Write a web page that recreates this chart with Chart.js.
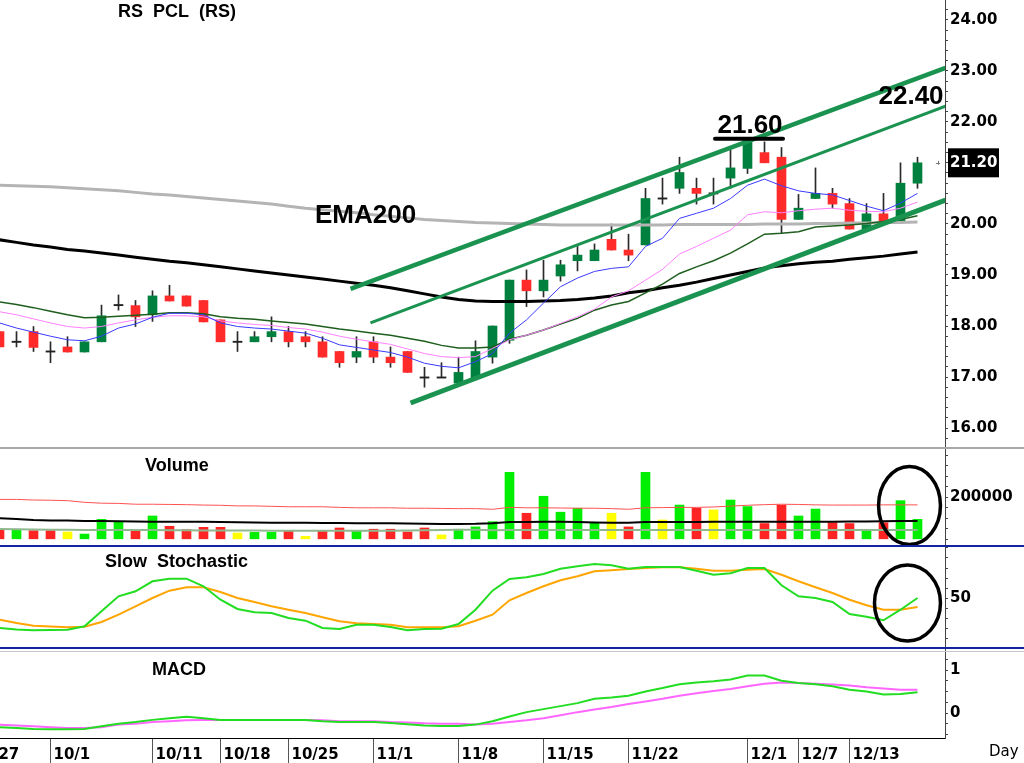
<!DOCTYPE html>
<html><head><meta charset="utf-8">
<script src="https://cdn.jsdelivr.net/npm/chart.js@4.4.1/dist/chart.umd.min.js"></script>
<style>
html,body{margin:0;padding:0;background:#fff;width:1024px;height:763px;overflow:hidden;}
canvas{position:absolute;left:0;}
</style></head><body>
<canvas id="cPrice" width="1024" height="449" style="top:0px"></canvas>
<canvas id="cVol" width="1024" height="98" style="top:449px"></canvas>
<canvas id="cSto" width="1024" height="102" style="top:547px"></canvas>
<canvas id="cMacd" width="1024" height="114" style="top:649px"></canvas>
<script>
// ---------- DATA (trading days 9/28 .. 12/17, index 0..54) ----------
const tickIdx    = [-1, 3, 9, 13, 17, 22, 27, 32, 37, 44, 47, 50];
const tickLabels = ['9/27','10/1','10/11','10/18','10/25','11/1','11/8','11/15','11/22','12/1','12/7','12/13'];

const openP = [17.89,17.69,17.89,17.50,17.59,17.49,17.69,18.41,18.40,18.22,
               18.59,18.59,18.50,18.12,17.69,17.69,17.79,17.89,17.79,17.69,
               17.50,17.39,17.69,17.39,17.50,16.99,16.99,16.88,16.97,17.39,
               17.72,18.90,18.69,18.98,19.28,19.28,19.70,19.49,19.59,20.50,
               20.70,20.70,20.60,20.90,21.09,21.40,21.31,20.09,20.50,20.60,
               20.40,19.90,20.20,20.05,20.80];
const highP = [17.89,17.89,17.99,17.69,17.79,17.69,18.41,18.61,18.50,18.69,
               18.80,18.59,18.50,18.12,17.89,17.89,18.18,17.99,17.89,17.79,
               17.50,17.79,17.79,17.59,17.50,17.19,17.28,17.39,17.71,18.00,
               18.90,19.10,19.29,19.29,19.56,19.61,20.00,19.80,20.70,20.90,
               21.31,20.90,20.90,21.45,21.66,21.61,21.50,20.58,21.10,20.70,
               20.50,20.40,20.60,21.20,21.31];
const lowP  = [17.59,17.59,17.50,17.28,17.49,17.49,17.69,18.31,17.99,18.09,
               18.49,18.39,18.08,17.69,17.50,17.69,17.69,17.59,17.59,17.39,
               17.19,17.28,17.28,17.19,17.09,16.80,16.99,16.88,16.95,17.27,
               17.66,18.38,18.57,18.88,19.08,19.28,19.49,19.28,19.59,20.39,
               20.60,20.39,20.39,20.70,20.99,21.20,19.82,20.09,20.50,20.31,
               19.90,19.90,20.05,20.05,20.70];
const closeP = [17.59,17.69,17.58,17.50,17.49,17.69,18.20,18.41,18.18,18.59,
                18.49,18.39,18.08,17.69,17.69,17.79,17.89,17.69,17.69,17.39,
                17.28,17.50,17.39,17.28,17.09,16.99,16.99,17.09,17.50,18.00,
                18.90,18.69,18.90,19.20,19.39,19.49,19.49,19.39,20.50,20.50,
                21.01,20.60,20.60,21.10,21.65,21.20,20.09,20.31,20.60,20.39,
                19.90,20.20,20.05,20.80,21.20];

const emaFast = [18.06,17.96,17.88,17.80,17.73,17.71,17.80,17.96,18.04,18.17,
                 18.25,18.25,18.22,18.06,17.99,17.96,17.94,17.90,17.86,17.76,
                 17.63,17.58,17.53,17.48,17.39,17.27,17.21,17.18,17.30,17.46,
                 17.86,18.12,18.45,18.77,18.94,19.07,19.13,19.16,19.56,19.72,
                 20.11,20.21,20.31,20.50,20.76,20.88,20.75,20.65,20.60,20.57,
                 20.46,20.35,20.26,20.41,20.60];
const emaMid = [18.28,18.22,18.14,18.06,17.99,17.96,17.99,18.06,18.12,18.17,
                18.20,18.20,18.18,18.10,18.06,18.03,18.01,17.97,17.94,17.88,
                17.80,17.74,17.69,17.64,17.55,17.46,17.40,17.38,17.40,17.56,
                17.73,17.82,17.92,18.05,18.18,18.33,18.57,18.69,18.90,19.11,
                19.41,19.56,19.72,19.88,20.18,20.24,20.22,20.26,20.29,20.31,
                20.27,20.25,20.24,20.31,20.43];
const emaSlow = [18.47,18.42,18.36,18.29,18.22,18.16,18.17,18.19,18.21,18.23,
                 18.26,18.26,18.24,18.18,18.15,18.13,18.10,18.07,18.04,17.99,
                 17.94,17.90,17.86,17.82,17.76,17.70,17.62,17.57,17.57,17.59,
                 17.74,17.82,17.92,18.04,18.15,18.31,18.41,18.48,18.65,18.82,
                 19.03,19.16,19.28,19.43,19.61,19.80,19.82,19.85,19.94,19.96,
                 19.98,20.01,20.05,20.09,20.16];
const emaLong = [19.69,19.64,19.59,19.55,19.50,19.47,19.43,19.39,19.35,19.31,
                 19.27,19.24,19.20,19.16,19.12,19.08,19.04,19.00,18.96,18.92,
                 18.88,18.84,18.80,18.75,18.69,18.63,18.57,18.52,18.49,18.48,
                 18.48,18.48,18.49,18.50,18.52,18.55,18.59,18.65,18.69,18.75,
                 18.80,18.86,18.93,19.00,19.07,19.14,19.18,19.22,19.25,19.27,
                 19.31,19.34,19.37,19.41,19.45];
const ema200 = [20.76,20.75,20.74,20.73,20.71,20.69,20.67,20.65,20.62,20.59,
                20.57,20.54,20.51,20.48,20.45,20.42,20.39,20.35,20.31,20.28,
                20.25,20.22,20.18,20.15,20.12,20.09,20.07,20.05,20.03,20.02,
                20.01,20.00,19.99,19.98,19.98,19.98,19.98,19.98,19.98,19.98,
                19.99,19.99,19.99,19.99,19.99,20.00,20.00,20.00,20.01,20.01,
                20.02,20.02,20.03,20.03,20.04];

// channel lines: [index, price] end points
const chanUpper = [[20.65,18.73],[55.65,23.06]];
const chanMid   = [[21.82,18.06],[55.65,22.31]];
const chanLower = [[24.18,16.49],[55.65,20.47]];

const volume = [48000,48000,41000,41000,35000,25000,95000,86000,43000,111000,
                62000,46000,57000,57000,30000,33000,33000,40000,14000,40000,
                54000,40000,48000,48000,35000,54000,21000,48000,59000,84000,
                319000,124000,205000,129000,148000,76000,124000,59000,319000,92000,
                163000,148000,140000,187000,156000,75000,163000,111000,144000,79000,
                75000,43000,79000,184000,95000];
const volDir = ['r','g','r','r','y','g','g','g','r','g',
                'r','r','r','r','y','g','g','r','y','r',
                'r','g','r','r','r','r','y','g','g','g',
                'g','r','g','g','g','g','y','r','g','y',
                'g','r','y','g','g','r','r','g','g','r',
                'r','g','r','g','g'];
const volAvgLong = [190000,190000,187000,186000,184000,176000,172000,171000,167000,167000,
                    166000,165000,163000,162000,159000,159000,157000,155000,155000,155000,
                    152000,150000,150000,150000,148000,148000,147000,146000,146000,143000,
                    152000,150000,150000,149000,148000,148000,146000,143000,150000,151000,
                    152000,152000,154000,158000,162000,165000,167000,166000,164000,163000,
                    163000,163000,164000,164000,164000];
const volAvgMid = [100000,97000,92000,90000,89000,87000,87000,86000,85000,84000,
                   84000,84000,83000,82000,81000,80000,79000,79000,79000,78000,
                   78000,77000,77000,76000,75000,74000,73000,73000,74000,77000,
                   82000,82000,84000,84000,82000,80000,79000,79000,82000,82000,
                   82000,82000,83000,84000,84000,84000,84000,84000,84000,84000,
                   85000,85000,86000,87000,87000];
const volAvgShort = [49000,48000,47000,46000,45000,44000,44000,44000,44000,44000,
                     43000,43000,42000,42000,42000,42000,41000,41000,41000,41000,
                     41000,41000,41000,41000,42000,43000,44000,45000,46000,43000,
                     44000,44000,44000,44000,44000,44000,44000,44000,44000,44000,
                     44000,44000,44000,44000,44000,44000,44000,44000,44000,44000,
                     44000,44000,44000,44000,44000];

const stochK = [20,18.5,17.7,18,18.3,21.7,36.7,51.7,56.7,66.7,
                69.3,69.3,61.7,48.3,39,35.7,35,30,27.3,20,
                19,23.3,23.3,21,17.7,19,19.3,24,38.3,57.3,
                69,70.7,74,79.3,81.7,84,82.7,79.3,81,81,
                81,77.3,73.3,74.7,80,80,62.7,51.7,50,46,
                34,31.3,27.7,38.3,50];
const stochD = [28.3,25,22.3,21.5,20.7,21.3,26,33.3,41.7,50,
                57.3,60.7,60.7,56,50,46,41.7,38.3,35,30.7,
                26.7,24.7,24,23.3,20.7,20.7,20.7,21.7,27.3,33.3,
                47.7,55,61.7,67.7,71.7,76.7,77.7,79,80,80.7,
                80.7,79.3,77.3,77.3,78.3,79,73.3,66.7,60.7,55,
                48.3,42.7,38.3,38.3,41];

const macdLine = [-0.33,-0.35,-0.37,-0.38,-0.38,-0.37,-0.31,-0.25,-0.21,-0.16,
                  -0.12,-0.09,-0.12,-0.16,-0.16,-0.16,-0.16,-0.16,-0.16,-0.19,
                  -0.21,-0.21,-0.21,-0.23,-0.26,-0.29,-0.30,-0.30,-0.27,-0.19,
                  -0.08,0.02,0.09,0.16,0.23,0.33,0.36,0.40,0.50,0.58,
                  0.67,0.71,0.74,0.78,0.87,0.87,0.75,0.70,0.67,0.62,
                  0.54,0.50,0.43,0.44,0.48];
const macdSignal = [-0.27,-0.29,-0.31,-0.33,-0.35,-0.35,-0.33,-0.27,-0.25,-0.21,
                    -0.19,-0.17,-0.16,-0.16,-0.16,-0.16,-0.16,-0.16,-0.16,-0.17,
                    -0.19,-0.19,-0.19,-0.21,-0.22,-0.24,-0.25,-0.25,-0.27,-0.25,
                    -0.21,-0.17,-0.12,-0.05,0.02,0.08,0.14,0.21,0.27,0.33,
                    0.40,0.46,0.51,0.56,0.62,0.68,0.71,0.70,0.68,0.66,
                    0.64,0.60,0.57,0.54,0.54];

// axis ticks
const priceTicks = Array.from({length:43},(_,i)=>Math.round((15.8+0.2*i)*10)/10);
const volTicks = [0,50000,100000,150000,200000,250000,300000,350000,400000];
const stoTicks = [0,10,20,30,40,50,60,70,80,90,100];
const macdTicks = [-0.5,-0.25,0,0.25,0.5,0.75,1,1.25];

// annotation texts and anchors (index, value)
const noteTexts = ['EMA200', '21.60', '22.40'];
const noteEma = [18.56, 20.16];
const noteHigh = [44.15, 21.92];
const noteHighBar = [42.09, 46.09, 21.67];
const noteTarget = [53.62, 22.49];
const volRing = [53.53, 161000, 1.82, 185700];
const stoRing = [53.41, 45, 1.94, 38];

// ---------- CHARTS ----------
const XMIN = 0.5/17, XMAX = 0.5/17 + 945/17;
const AX_FONT = {family:'"DejaVu Sans", Verdana, sans-serif', size:15, weight:'bold'};
const LBL = 'bold 18px "Liberation Sans", Arial, sans-serif';

function xHidden(){ return {type:'linear', min:XMIN, max:XMAX, display:false, offset:false, grid:{offset:false}}; }
function yAxis(min, max, vals, labelFn){
  return {type:'linear', position:'right', min, max,
    afterBuildTicks: s => { s.ticks = vals.map(v=>({value:v})); },
    afterFit: s => { s.width = 79; s.paddingTop = 0; s.paddingBottom = 0; },
    grid:{drawOnChartArea:false, drawTicks:true, tickLength:3, color:'#444', lineWidth:1},
    border:{display:true, color:'#444', width:1},
    ticks:{autoSkip:false, padding:2, font:AX_FONT, color:'#000', callback: v => labelFn(v)}};
}
function lineDs(arr, color, width, order){
  return {type:'line', data: arr.map((v,i)=>({x:i,y:v})), borderColor:color, borderWidth:width,
          pointRadius:0, fill:false, tension:0, order};
}
function segDs(seg, color, width, order){
  return {type:'line', data: seg.map(p=>({x:p[0],y:p[1]})), borderColor:color, borderWidth:width,
          pointRadius:0, fill:false, tension:0, order, borderCapStyle:'butt'};
}
function opts(scales){
  return {responsive:false, animation:false, events:[], layout:{padding:0},
          plugins:{legend:{display:false}, tooltip:{enabled:false}}, scales};
}
function ring(ctx, xs, ys, r){
  const cx = xs.getPixelForValue(r[0]), cy = ys.getPixelForValue(r[1]);
  const rx = xs.getPixelForValue(r[0]+r[2]) - cx, ry = cy - ys.getPixelForValue(r[1]+r[3]);
  ctx.strokeStyle = '#000'; ctx.lineWidth = 3.5;
  ctx.beginPath(); ctx.ellipse(cx, cy, rx, ry, 0, 0, Math.PI*2); ctx.stroke();
}

const GREEN_C = '#00803e', RED_C = '#ff2b2b', TREND = '#1b9350';
const VOLC = {r:'#ff2424', g:'#00ee00', y:'#ffff00'};
const NAVY = '#1424a0';

// Price chart
new Chart(document.getElementById('cPrice'), {
  type:'bar',
  data:{datasets:[
    segDs(chanUpper, TREND, 4.5, 1),
    segDs(chanMid, TREND, 3, 2),
    segDs(chanLower, TREND, 5, 3),
    lineDs(emaFast, '#3a3aff', 1, 4),
    lineDs(emaMid, '#ff80ff', 1, 5),
    lineDs(emaSlow, '#1e5e1e', 1.5, 6),
    lineDs(emaLong, '#000000', 3, 7),
    lineDs(ema200, '#b4b4b4', 3, 8),
    {type:'bar', order:9, grouped:false, barThickness:9,
     data: openP.map((o,i)=>{ const c = closeP[i]; return {x:i, y: o===c ? [o-0.012,o+0.012] : [Math.min(o,c),Math.max(o,c)]}; }),
     backgroundColor: openP.map((o,i)=> closeP[i]>o ? GREEN_C : (closeP[i]<o ? RED_C : '#222'))},
    {type:'bar', order:10, grouped:false, barThickness:1,
     data: highP.map((h,i)=>({x:i, y:[lowP[i], h]})), backgroundColor:'#2a2a2a'}
  ]},
  options: opts({x:xHidden(), y:yAxis(24-429/51, 24+20/51, priceTicks, v => Math.abs(v-Math.round(v))<1e-6 ? v.toFixed(2) : '')}),
  plugins:[{id:'priceNotes', afterDraw(chart){
    const {ctx, scales:{x, y}} = chart;
    ctx.save();
    ctx.fillStyle = '#a8a8a8'; ctx.fillRect(0, 447, 1024, 2);
    ctx.fillStyle = '#000'; ctx.textBaseline = 'middle'; ctx.textAlign = 'left';
    ctx.font = LBL; ctx.fillText('RS  PCL  (RS)', 118, 12);
    ctx.font = 'bold 26px "Liberation Sans", Arial, sans-serif';
    ctx.fillText(noteTexts[0], x.getPixelForValue(noteEma[0]), y.getPixelForValue(noteEma[1]));
    ctx.textAlign = 'center';
    ctx.fillText(noteTexts[1], x.getPixelForValue(noteHigh[0]), y.getPixelForValue(noteHigh[1]));
    ctx.fillText(noteTexts[2], x.getPixelForValue(noteTarget[0]), y.getPixelForValue(noteTarget[1]));
    ctx.strokeStyle = '#000'; ctx.lineWidth = 4; ctx.lineCap = 'round';
    const by = y.getPixelForValue(noteHighBar[2]);
    ctx.beginPath(); ctx.moveTo(x.getPixelForValue(noteHighBar[0]), by); ctx.lineTo(x.getPixelForValue(noteHighBar[1]), by); ctx.stroke();
    const last = closeP[closeP.length-1];
    const ly = y.getPixelForValue(last);
    ctx.fillStyle = '#000'; ctx.fillRect(948, ly-14.5, 51, 29);
    ctx.fillStyle = '#fff'; ctx.textAlign = 'left';
    ctx.font = 'bold 15px "DejaVu Sans", Verdana, sans-serif';
    ctx.fillText(last.toFixed(2), 950, ly+0.5);
    ctx.strokeStyle = '#777'; ctx.lineWidth = 1; ctx.lineCap = 'butt';
    const px = x.getPixelForValue(55.2);
    ctx.beginPath(); ctx.moveTo(px-2, Math.round(ly)+0.5); ctx.lineTo(px+2, Math.round(ly)+0.5);
    ctx.moveTo(Math.round(px)+0.5, ly-2); ctx.lineTo(Math.round(px)+0.5, ly+2); ctx.stroke();
    ctx.restore();
  }}]
});

// Volume chart
new Chart(document.getElementById('cVol'), {
  type:'bar',
  data:{datasets:[
    lineDs(volAvgLong, '#ff5050', 1, 1),
    lineDs(volAvgMid, '#000000', 2, 2),
    lineDs(volAvgShort, '#8fb88f', 2, 3),
    {type:'bar', order:4, grouped:false, barThickness:9,
     data: volume.map((v,i)=>({x:i, y:v})), backgroundColor: volDir.map(d=>VOLC[d])}
  ]},
  options: opts({x:xHidden(), y:yAxis(-(547-539.3)*4762, (539.3-449)*4762, volTicks, v => v===200000 ? '200000' : '')}),
  plugins:[{id:'volNotes', afterDraw(chart){
    const {ctx, scales:{x, y}} = chart;
    ctx.save();
    ctx.fillStyle = '#000'; ctx.textBaseline = 'middle'; ctx.textAlign = 'left';
    ctx.font = LBL; ctx.fillText('Volume', 145, 17);
    ring(ctx, x, y, volRing);
    ctx.fillStyle = NAVY; ctx.fillRect(0, 96, 1024, 2);
    ctx.restore();
  }}]
});

// Slow stochastic
new Chart(document.getElementById('cSto'), {
  type:'line',
  data:{datasets:[
    lineDs(stochK, '#22dd22', 2, 1),
    lineDs(stochD, '#ffa500', 2, 2)
  ]},
  options: opts({x:xHidden(), y:yAxis(-1, 101, stoTicks, v => v===50 ? '50' : '')}),
  plugins:[{id:'stoNotes', afterDraw(chart){
    const {ctx, scales:{x, y}} = chart;
    ctx.save();
    ctx.fillStyle = '#000'; ctx.textBaseline = 'middle'; ctx.textAlign = 'left';
    ctx.font = LBL; ctx.fillText('Slow  Stochastic', 105, 15);
    ring(ctx, x, y, stoRing);
    ctx.fillStyle = NAVY; ctx.fillRect(0, 100, 1024, 2);
    ctx.restore();
  }}]
});

// MACD with date axis
new Chart(document.getElementById('cMacd'), {
  type:'line',
  data:{datasets:[
    lineDs(macdLine, '#22dd22', 2, 1),
    lineDs(macdSignal, '#ff66ff', 2, 2)
  ]},
  options: opts({
    x:{type:'linear', min:XMIN, max:XMAX, offset:false, position:'bottom',
       afterBuildTicks: s => { s.ticks = tickIdx.map(v=>({value:v})); },
       afterFit: s => { s.height = 25; s.paddingLeft = 0; s.paddingRight = 0; },
       grid:{drawOnChartArea:false, drawTicks:true, tickLength:25, color:'#555', lineWidth:1, offset:false},
       border:{display:true, color:'#000', width:1},
       ticks:{autoSkip:false, maxRotation:0, minRotation:0, align:'start', padding:-17,
              font:AX_FONT, color:'#000', callback:(v,i)=> (i===0 ? '' : '\u2009') + tickLabels[i]}},
    y: yAxis((713-738)/43, (713-649)/43, macdTicks, v => v===0 ? '0' : (v===1 ? '1' : ''))
  }),
  plugins:[{id:'macdNotes', afterDraw(chart){
    const {ctx} = chart;
    ctx.save();
    ctx.fillStyle = '#c8c8c8'; ctx.fillRect(0, 2, 1024, 1);
    ctx.fillStyle = '#000'; ctx.textBaseline = 'middle'; ctx.textAlign = 'left';
    ctx.font = LBL; ctx.fillText('MACD', 152, 21);
    ctx.font = '15px "DejaVu Sans", Verdana, sans-serif'; ctx.textBaseline = 'alphabetic';
    ctx.fillText('Day', 989, 107);
    ctx.restore();
  }}]
});
</script>
</body></html>
